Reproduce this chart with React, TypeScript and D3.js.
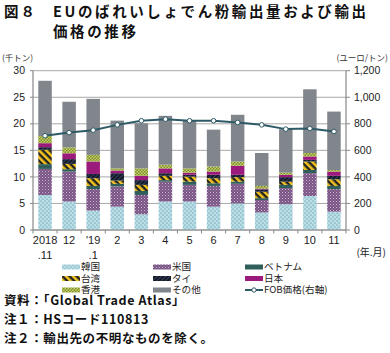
import React from "react";
import * as d3 from "d3";

const categories = ["2018.11", "12", "'19.1", "2", "3", "4", "5", "6", "7", "8", "9", "10", "11"];
const tickLine1 = ["2018", "12", "'19", "2", "3", "4", "5", "6", "7", "8", "9", "10", "11"];
const tickLine2 = [".11", "", ".1", "", "", "", "", "", "", "", "", "", ""];

const seriesNames = ["韓国", "米国", "ベトナム", "台湾", "タイ", "日本", "香港", "その他"];
const korea = [6.6, 5.35, 3.65, 4.4, 2.95, 5.35, 5.35, 4.4, 5.0, 3.3, 4.85, 6.4, 3.45];
const usa = [4.9, 5.65, 4.05, 3.8, 3.65, 3.75, 3.15, 3.9, 3.7, 2.35, 3.05, 4.3, 4.25];
const vietnam = [0.9, 0.45, 0.6, 0.5, 0.75, 0.3, 0.6, 0.5, 0.4, 0.35, 0.6, 0.6, 0.6];
const taiwan = [2.7, 1.0, 1.45, 0.6, 1.15, 0.8, 0.95, 0.95, 0.85, 1.2, 0.6, 1.6, 1.25];
const thailand = [0.5, 0.9, 0.8, 1.4, 0.9, 0.5, 0.35, 0.65, 0.45, 0.45, 0.85, 0.3, 0.65];
const japan = [0.75, 1.1, 2.35, 0.5, 0.8, 0.9, 0.4, 0.6, 1.7, 0.15, 0.45, 0.65, 0.8];
const hongkong = [1.35, 1.1, 1.25, 0.4, 1.4, 0.7, 0.8, 0.95, 0.8, 0.5, 0.4, 0.65, 0.3];
const others = [10.4, 8.6, 10.55, 9.0, 8.5, 9.2, 9.0, 6.95, 8.8, 6.2, 8.2, 12.0, 11.0];
const fobPrice = [710, 734, 752, 792, 823, 835, 823, 823, 810, 792, 760, 765, 742];

const leftTicks = [0, 5, 10, 15, 20, 25, 30];
const rightTicks = [0, 200, 400, 600, 800, 1000, 1200];

const fills = [
  "url(#pKorea)",
  "url(#pUsa)",
  "#2f5e5b",
  "url(#pTaiwan)",
  "url(#pThai)",
  "#9b1b7d",
  "url(#pHk)",
  "#80868b",
];

const JP = "'Noto Sans CJK JP', 'Noto Sans', sans-serif";
const LAT = "'Liberation Sans', Arial, 'Noto Sans CJK JP', sans-serif";

export default function App() {
  const W = 390, H = 353;
  const left = 33, right = 346, top = 70.7, bottom = 230;
  const x = d3.scaleBand<string>().domain(categories).range([left, right]).paddingInner(0.44).paddingOuter(0.22);
  const y = d3.scaleLinear().domain([0, 30]).range([bottom, top]);
  const y2 = d3.scaleLinear().domain([0, 1200]).range([bottom, top]);

  const table = categories.map((c, i) => ({
    cat: c,
    韓国: korea[i], 米国: usa[i], ベトナム: vietnam[i], 台湾: taiwan[i],
    タイ: thailand[i], 日本: japan[i], 香港: hongkong[i], その他: others[i],
  }));
  const stacked = d3.stack<any>().keys(seriesNames)(table);

  const line = d3.line<number>()
    .x((_, i) => (x(categories[i]) as number) + x.bandwidth() / 2)
    .y((d) => y2(d));

  const step = x.step();
  const boundaries = d3.range(categories.length + 1).map((i) => left + i * step);

  const legendItems = [
    { name: "韓国", col: 0, row: 0, fill: fills[0] },
    { name: "台湾", col: 0, row: 1, fill: fills[3] },
    { name: "香港", col: 0, row: 2, fill: fills[6] },
    { name: "米国", col: 1, row: 0, fill: fills[1] },
    { name: "タイ", col: 1, row: 1, fill: fills[4] },
    { name: "その他", col: 1, row: 2, fill: fills[7] },
    { name: "ベトナム", col: 2, row: 0, fill: fills[2] },
    { name: "日本", col: 2, row: 1, fill: fills[5] },
  ];
  const legX = [62, 153, 245];
  const legY = [267, 278.5, 290];
  const legFont = 9.6;

  return (
    <svg width={W} height={H} style={{ position: "absolute", left: 0, top: 0, background: "#fff" }}>
      <defs>
        <pattern id="pKorea" width="4" height="4" patternUnits="userSpaceOnUse">
          <rect width="4" height="4" fill="#b8dfe8" />
          <circle cx="1" cy="1" r="0.6" fill="#4a7c8c" />
          <circle cx="3" cy="3" r="0.6" fill="#4a7c8c" />
        </pattern>
        <pattern id="pUsa" width="3" height="3" patternUnits="userSpaceOnUse">
          <rect width="3" height="3" fill="#7a5585" />
          <rect x="0" y="0" width="1" height="1" fill="#c9b4cf" />
          <rect x="1.5" y="1.5" width="1" height="1" fill="#a58cae" />
        </pattern>
        <pattern id="pTaiwan" width="5" height="5" patternUnits="userSpaceOnUse" patternTransform="rotate(-45)">
          <rect width="5" height="5" fill="#222222" />
          <rect width="2.6" height="5" fill="#f2c21e" />
        </pattern>
        <pattern id="pThai" width="3" height="3" patternUnits="userSpaceOnUse" patternTransform="rotate(45)">
          <rect width="3" height="3" fill="#141a2a" />
          <rect width="1" height="3" fill="#34405a" />
        </pattern>
        <pattern id="pHk" width="3" height="3" patternUnits="userSpaceOnUse">
          <rect width="3" height="3" fill="#c8d45e" />
          <rect x="0" y="0" width="1.5" height="1.5" fill="#7a8a38" />
          <rect x="1.5" y="1.5" width="1.5" height="1.5" fill="#7a8a38" />
        </pattern>
      </defs>

      {/* Title */}
      <text x={4} y={17} fontFamily={JP} fontWeight={700} fontSize={14.5} letterSpacing={2} fill="#111">図８</text>
      <text x={53} y={17} fontFamily={JP} fontWeight={700} fontSize={14.5} letterSpacing={2.6} fill="#111">EUのばれいしょでん粉輸出量および輸出</text>
      <text x={53} y={36.5} fontFamily={JP} fontWeight={700} fontSize={14.5} letterSpacing={2.6} fill="#111">価格の推移</text>

      {/* Units */}
      <text x={2} y={61} fontFamily={JP} fontSize={8.5} fill="#333">(千トン)</text>
      <text x={388} y={61} textAnchor="end" fontFamily={JP} fontSize={8.5} fill="#333">(ユーロ/トン)</text>

      {/* Gridlines */}
      {leftTicks.map((t) => (
        <line key={"g" + t} x1={left} x2={right} y1={y(t)} y2={y(t)} stroke="#a8a8a8" strokeWidth={1} />
      ))}

      {/* Bars */}
      {stacked.map((s, si) => (
        <g key={seriesNames[si]}>
          {s.map((d, i) => (
            <rect
              key={i}
              x={x(categories[i])}
              width={x.bandwidth()}
              y={y(d[1])}
              height={y(d[0]) - y(d[1])}
              fill={fills[si]}
            />
          ))}
        </g>
      ))}

      {/* Axes */}
      <line x1={left} x2={left} y1={top} y2={bottom} stroke="#888" strokeWidth={1.2} />
      <line x1={right} x2={right} y1={top} y2={bottom} stroke="#888" strokeWidth={1.2} />
      <line x1={left} x2={right} y1={bottom} y2={bottom} stroke="#888" strokeWidth={1.2} />
      {leftTicks.map((t) => (
        <g key={"l" + t}>
          <line x1={left - 3} x2={left} y1={y(t)} y2={y(t)} stroke="#888" />
          <text x={25} y={y(t) + 3.6} textAnchor="end" fontFamily={LAT} fontSize={10.5} fill="#222">{t}</text>
        </g>
      ))}
      {rightTicks.map((t) => (
        <g key={"r" + t}>
          <line x1={right} x2={right + 4} y1={y2(t)} y2={y2(t)} stroke="#888" />
          <text x={354} y={y2(t) + 3.6} fontFamily={LAT} fontSize={10.5} fill="#222">{d3.format(",")(t)}</text>
        </g>
      ))}
      {boundaries.map((b, i) => (
        <line key={"b" + i} x1={b} x2={b} y1={bottom} y2={bottom + 3.5} stroke="#888" />
      ))}
      {categories.map((c, i) => (
        <g key={"xl" + i}>
          <text x={(x(c) as number) + x.bandwidth() / 2} y={244} textAnchor="middle" fontFamily={LAT} fontSize={11} fill="#222">{tickLine1[i]}</text>
          {tickLine2[i] && (
            <text x={(x(c) as number) + x.bandwidth() / 2} y={259} textAnchor="middle" fontFamily={LAT} fontSize={11} fill="#222">{tickLine2[i]}</text>
          )}
        </g>
      ))}
      <text x={386} y={256} textAnchor="end" fontFamily={JP} fontSize={10} fill="#222">(年.月)</text>

      {/* Line */}
      <path d={line(fobPrice) || ""} fill="none" stroke="#2d5a66" strokeWidth={2} />
      {fobPrice.map((v, i) => (
        <circle key={"c" + i} cx={(x(categories[i]) as number) + x.bandwidth() / 2} cy={y2(v)} r={2.3} fill="#fff" stroke="#2d5a66" strokeWidth={1} />
      ))}

      {/* Legend */}
      {legendItems.map((it) => (
        <g key={it.name}>
          <rect x={legX[it.col]} y={legY[it.row] - 2.5} width={18} height={5} fill={it.fill} />
          <text x={legX[it.col] + 19} y={legY[it.row] + 3.4} fontFamily={JP} fontSize={legFont} fill="#222">{it.name}</text>
        </g>
      ))}
      <line x1={legX[2]} x2={legX[2] + 18} y1={legY[2]} y2={legY[2]} stroke="#2d5a66" strokeWidth={2} />
      <circle cx={legX[2] + 9} cy={legY[2]} r={2.2} fill="#fff" stroke="#2d5a66" strokeWidth={1} />
      <text x={legX[2] + 19} y={legY[2] + 3.4} fontFamily={JP} fontSize={legFont} fill="#222">FOB価格(右軸)</text>

      {/* Notes */}
      <text x={4} y={305} fontFamily={JP} fontWeight={700} fontSize={12.5} letterSpacing={0.6} fill="#111">資料：「Global Trade Atlas」</text>
      <text x={4} y={324} fontFamily={JP} fontWeight={700} fontSize={12.5} letterSpacing={0.6} fill="#111">注１：HSコード110813</text>
      <text x={4} y={343} fontFamily={JP} fontWeight={700} fontSize={12.5} letterSpacing={0.6} fill="#111">注２：輸出先の不明なものを除く。</text>
    </svg>
  );
}
